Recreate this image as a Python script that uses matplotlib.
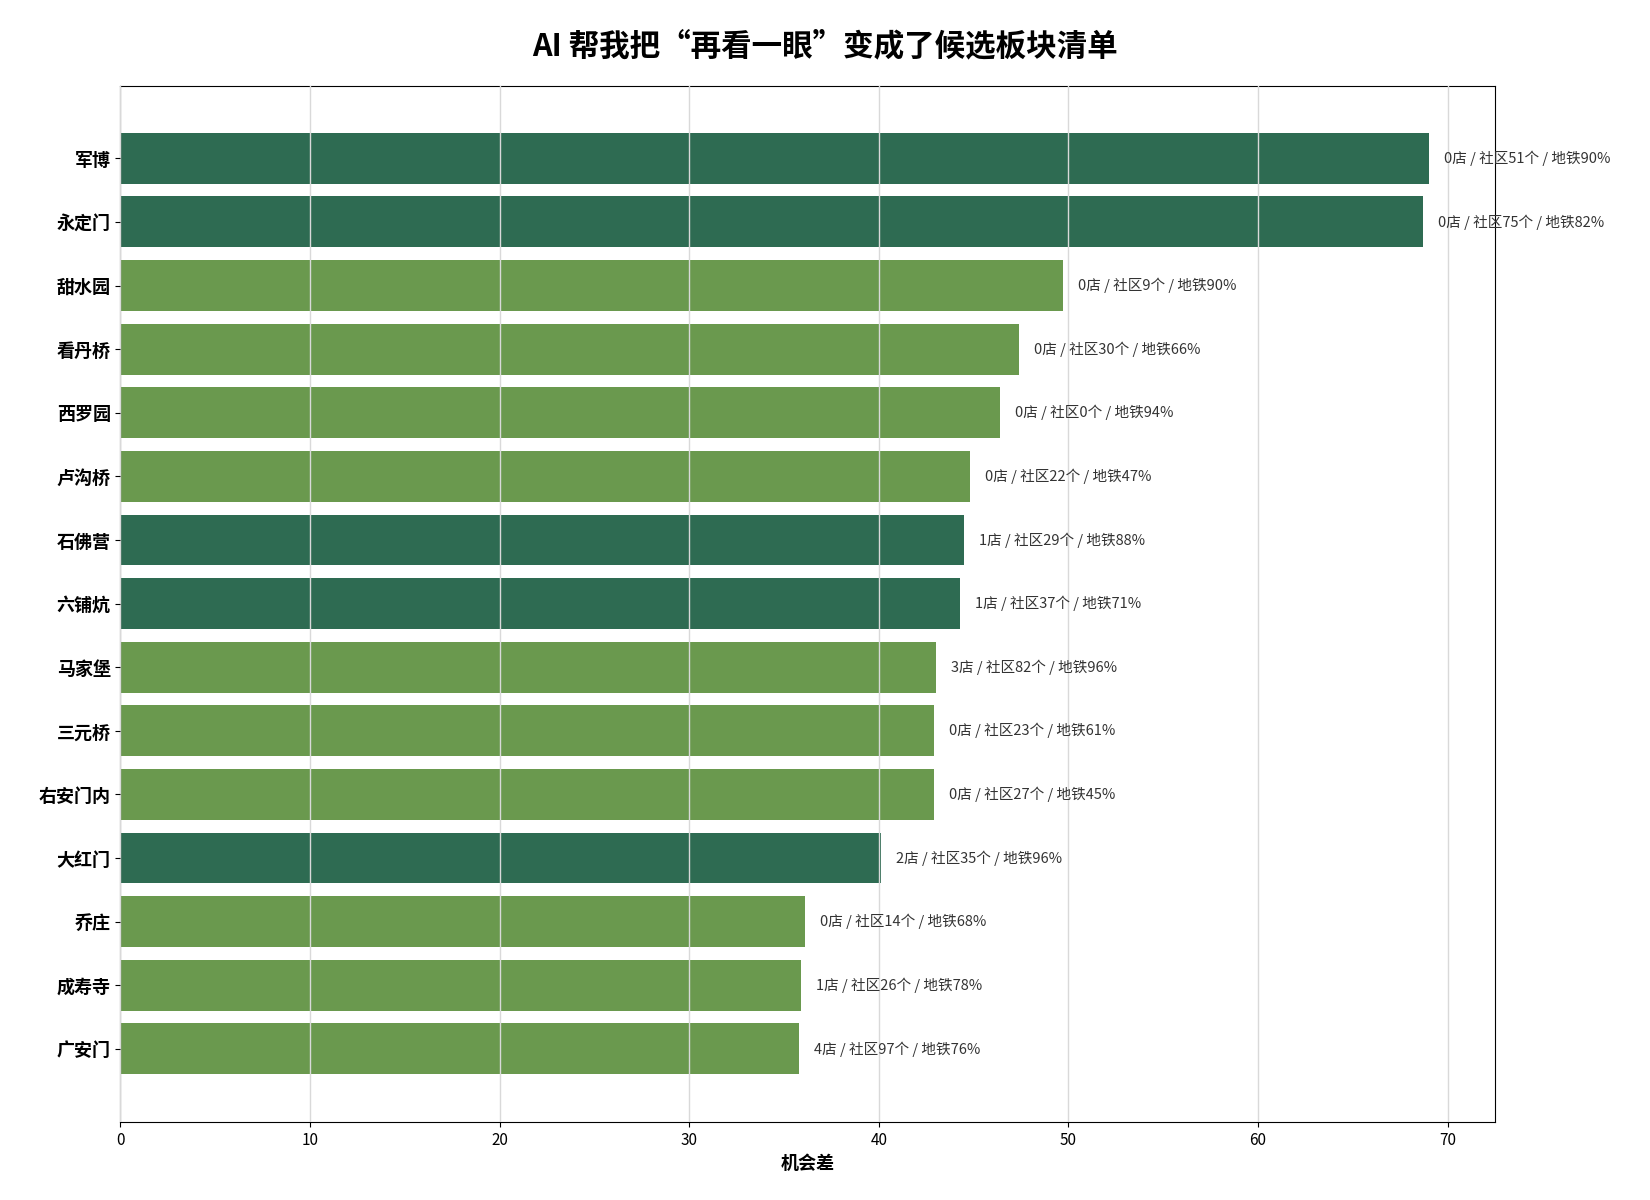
import matplotlib
matplotlib.use("Agg")
import matplotlib.pyplot as plt

plt.rcParams['font.family'] = ['Noto Sans CJK SC', 'DejaVu Sans']

names = ["军博","永定门","甜水园","看丹桥","西罗园","卢沟桥","石佛营","六铺炕","马家堡","三元桥","右安门内","大红门","乔庄","成寿寺","广安门"]
values = [69.0,68.7,49.7,47.4,46.4,44.8,44.5,44.3,43.0,42.9,42.9,40.1,36.1,35.9,35.8]
stores = [0,0,0,0,0,0,1,1,3,0,0,2,0,1,4]
communities = [51,75,9,30,0,22,29,37,82,23,27,35,14,26,97]
subway = [90,82,90,66,94,47,88,71,96,61,45,96,68,78,76]
dark_group = [1,1,0,0,0,0,1,1,0,0,0,1,0,0,0]

fig, ax = plt.subplots(figsize=(16.5, 12), dpi=100)
fig.subplots_adjust(left=0.073, right=0.906, top=0.928, bottom=0.065)
y = list(range(len(names)))
colors = ["#2e6b52" if d else "#6a994e" for d in dark_group]
ax.barh(y, values, color=colors, height=0.8)
ax.set_yticks(y)
ax.set_yticklabels(names, fontsize=13, fontweight='bold')
ax.set_xlim(0, 72.5)
ax.set_ylim(len(names) - 1 + 1.15, -1.13)
ax.grid(axis='x', color='#d9d9d9', linewidth=1)
ax.set_axisbelow(False)
for i, v in enumerate(values):
    ax.text(v + 0.8, i, f"{stores[i]}店 / 社区{communities[i]}个 / 地铁{subway[i]}%",
            va='center', fontsize=10.5, color='#333333')
ax.set_xlabel("机会差", fontsize=13, fontweight='bold')
ax.tick_params(axis='x', labelsize=11)
fig.suptitle("AI 帮我把“再看一眼”变成了候选板块清单", fontsize=22, fontweight='bold', y=0.975)
fig.savefig("out.png", dpi=100)
